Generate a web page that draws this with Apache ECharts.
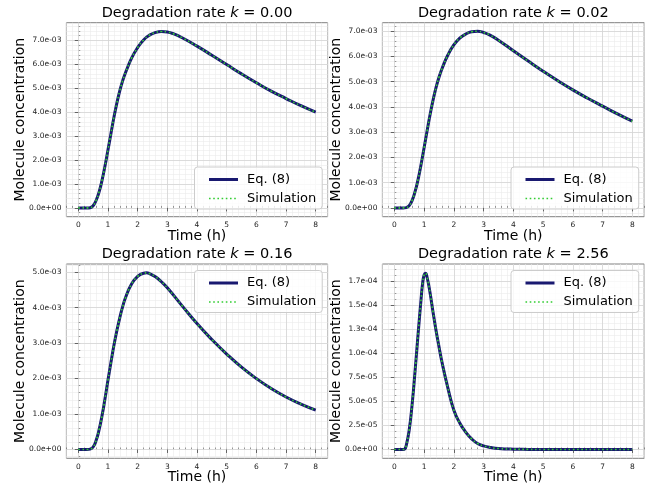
<!DOCTYPE html>
<html><head><meta charset="utf-8">
<script src="https://cdn.jsdelivr.net/npm/echarts@6/dist/echarts.min.js"></script>
<style>html,body{margin:0;padding:0;background:#fff}#c{width:649px;height:485px}</style>
</head><body><div id="c"></div>
<script>
// ---------- data ----------
const panelTitles = ['0.00', '0.02', '0.16', '2.56'];
const seriesNames = ['Eq. (8)', 'Simulation'];

// panel 1, k = 0.00 (concentration in units of 1e-3)
const timeK000 = [0,0.1,0.2,0.3,0.4,0.5,0.6,0.7,0.8,0.9,1.0,1.1,1.2,1.3,1.4,1.5,1.6,1.8,2.0,2.2,2.4,2.6,2.8,3.0,3.2,3.5,4.0,4.5,5.0,5.5,6.0,6.5,7.0,7.5,8.0];
const concK000 = [0,0,0,0,0.01,0.09,0.31,0.66,1.15,1.75,2.42,3.1,3.78,4.38,4.9,5.33,5.68,6.27,6.7,7.02,7.22,7.33,7.37,7.35,7.28,7.11,6.76,6.38,5.99,5.6,5.23,4.88,4.57,4.27,4.0];

// panel 2, k = 0.02 (units of 1e-3)
const timeK002 = [0,0.1,0.2,0.3,0.4,0.5,0.6,0.7,0.8,0.9,1.0,1.1,1.2,1.3,1.4,1.5,1.6,1.8,2.0,2.2,2.4,2.6,2.8,3.0,3.2,3.5,4.0,4.5,5.0,5.5,6.0,6.5,7.0,7.5,8.0];
const concK002 = [0,0,0,0,0.01,0.09,0.30,0.65,1.13,1.72,2.37,3.03,3.68,4.25,4.75,5.16,5.5,6.05,6.45,6.72,6.88,6.97,6.99,6.94,6.85,6.64,6.22,5.81,5.41,5.03,4.67,4.34,4.03,3.72,3.43];

// panel 3, k = 0.16 (units of 1e-3)
const timeK016 = [0,0.1,0.2,0.3,0.4,0.5,0.6,0.7,0.8,0.9,1.0,1.1,1.2,1.3,1.4,1.5,1.6,1.8,2.0,2.2,2.3,2.4,2.6,2.8,3.0,3.5,4.0,4.5,5.0,5.5,6.0,6.5,7.0,7.5,8.0];
const concK016 = [0,0,0,0,0.01,0.07,0.25,0.55,0.95,1.43,1.95,2.45,2.93,3.35,3.72,4.04,4.3,4.67,4.88,4.97,4.98,4.96,4.87,4.73,4.56,4.05,3.55,3.1,2.69,2.32,2.0,1.72,1.48,1.28,1.11];

// panel 4, k = 2.56 (units of 1e-5)
const timeK256 = [0,0.1,0.2,0.3,0.35,0.4,0.5,0.6,0.7,0.8,0.9,0.95,1.0,1.05,1.1,1.2,1.3,1.4,1.5,1.6,1.8,2.0,2.2,2.4,2.6,2.8,3.0,3.25,3.5,4.0,4.5,5.0,6.0,7.0,8.0];
const concK256 = [0,0,0,0,0.05,0.4,2.0,4.7,8.2,12.0,15.6,17.2,18.1,18.3,17.9,16.3,14.3,12.4,10.7,9.1,6.4,4.1,2.75,1.8,1.1,0.62,0.37,0.2,0.1,0.03,0.01,0,0,0,0];

// tick values and labels
const xTicks = [0,1,2,3,4,5,6,7,8];
const xTickLabels = ['0','1','2','3','4','5','6','7','8'];
const yTicks1 = [0,1,2,3,4,5,6,7];
const yTickLabels1 = ['0.0e+00','1.0e-03','2.0e-03','3.0e-03','4.0e-03','5.0e-03','6.0e-03','7.0e-03'];
const yTicks2 = [0,1,2,3,4,5,6,7];
const yTickLabels2 = ['0.0e+00','1.0e-03','2.0e-03','3.0e-03','4.0e-03','5.0e-03','6.0e-03','7.0e-03'];
const yTicks3 = [0,1,2,3,4,5];
const yTickLabels3 = ['0.0e+00','1.0e-03','2.0e-03','3.0e-03','4.0e-03','5.0e-03'];
const yTicks4 = [0,2.5,5,7.5,10,12.5,15,17.5];
const yTickLabels4 = ['0.0e+00','2.5e-05','5.0e-05','7.5e-05','1.0e-04','1.3e-04','1.5e-04','1.7e-04'];

// ---------- layout ----------
const FONT = 'DejaVu Sans';
const panels = [
  {t: timeK000, c: concK000, yt: yTicks1, yl: yTickLabels1, ymin: -0.368, ymax: 7.74, minorY: 0.2,
   grid: {left: 66.4, top: 22.7, width: 261.2, height: 194}, legend: {left: 194.5, top: 167}},
  {t: timeK002, c: concK002, yt: yTicks2, yl: yTickLabels2, ymin: -0.349, ymax: 7.33, minorY: 0.2,
   grid: {left: 382.4, top: 22.7, width: 261.8, height: 194}, legend: {left: 511, top: 167}},
  {t: timeK016, c: concK016, yt: yTicks3, yl: yTickLabels3, ymin: -0.249, ymax: 5.23, minorY: 0.2,
   grid: {left: 66.4, top: 264, width: 261.2, height: 194.3}, legend: {left: 194.5, top: 270.5}},
  {t: timeK256, c: concK256, yt: yTicks4, yl: yTickLabels4, ymin: -0.915, ymax: 19.25, minorY: 0.625,
   grid: {left: 382.4, top: 264, width: 261.8, height: 194.3}, legend: {left: 511, top: 270.5}}
];

function minorValues(min, max, step) {
  const out = [];
  for (let i = Math.ceil(min / step - 1e-9); i * step <= max + 1e-9; i++) out.push(+(i * step).toFixed(6));
  return out;
}
function labelFor(ticks, labels) {
  return function (v) {
    for (let i = 0; i < ticks.length; i++) if (Math.abs(ticks[i] - v) < 1e-6) return labels[i];
    return '';
  };
}

const grids = [], xAxes = [], yAxes = [], series = [], legends = [], graphics = [];
const XMIN = -0.4, XMAX = 8.4;
panels.forEach((p, i) => {
  grids.push(Object.assign({show: true, borderColor: '#808080', borderWidth: 1, containLabel: false}, p.grid));
  // major x
  xAxes.push({type: 'value', gridIndex: i, min: XMIN, max: XMAX, z: 3,
    axisLine: {show: false},
    axisTick: {show: true, length: 3.5, customValues: xTicks, lineStyle: {color: '#444', width: 0.8}},
    axisLabel: {show: true, customValues: xTicks, formatter: labelFor(xTicks, xTickLabels), fontSize: 7.5, fontFamily: FONT, color: '#222', margin: 4.5},
    splitLine: {show: true, lineStyle: {color: '#d4d4d4', width: 0.8}}});
  // minor x
  xAxes.push({type: 'value', gridIndex: i, min: XMIN, max: XMAX, z: 2,
    axisLine: {show: false},
    axisTick: {show: true, length: 2, customValues: minorValues(XMIN, XMAX, 0.2), lineStyle: {color: '#555', width: 0.6}},
    axisLabel: {show: false},
    splitLine: {show: true, lineStyle: {color: '#ebebeb', width: 0.6}}});
  // major y
  yAxes.push({type: 'value', gridIndex: i, min: p.ymin, max: p.ymax, z: 3,
    axisLine: {show: false},
    axisTick: {show: true, length: 3.5, customValues: p.yt, lineStyle: {color: '#444', width: 0.8}},
    axisLabel: {show: true, customValues: p.yt, formatter: labelFor(p.yt, p.yl), fontSize: 7.5, fontFamily: FONT, color: '#222', margin: 5},
    splitLine: {show: true, lineStyle: {color: '#d4d4d4', width: 0.8}}});
  // minor y
  yAxes.push({type: 'value', gridIndex: i, min: p.ymin, max: p.ymax, z: 2,
    axisLine: {show: false},
    axisTick: {show: true, length: 2, customValues: minorValues(p.ymin, p.ymax, p.minorY), lineStyle: {color: '#555', width: 0.6}},
    axisLabel: {show: false},
    splitLine: {show: true, lineStyle: {color: '#ebebeb', width: 0.6}}});

  const pts = p.t.map((t, j) => [t, p.c[j]]);
  series.push({name: seriesNames[0], type: 'line', xAxisIndex: 2 * i, yAxisIndex: 2 * i, data: pts,
    symbol: 'none', smooth: 0.5, z: 5,
    lineStyle: {color: '#191970', width: 3}, itemStyle: {color: '#191970'}});
  series.push({name: seriesNames[1], type: 'line', xAxisIndex: 2 * i, yAxisIndex: 2 * i, data: pts,
    symbol: 'none', smooth: 0.5, z: 6,
    lineStyle: {color: '#32cd32', width: 1.6, type: [1.6, 2.6]}, itemStyle: {color: '#32cd32'}});

  legends.push({show: true, orient: 'vertical', left: p.legend.left, top: p.legend.top,
    data: [{name: seriesNames[0], lineStyle: {width: 3, color: '#191970'}},
           {name: seriesNames[1], lineStyle: {width: 1.6, color: '#32cd32', type: [1.6, 2.6]}}],
    itemWidth: 29, itemHeight: 13, itemGap: 6, padding: [6, 6, 4, 13],
    backgroundColor: 'rgba(255,255,255,0.8)', borderColor: '#cccccc', borderWidth: 1, borderRadius: 3,
    selectedMode: false,
    itemStyle: {opacity: 0, borderWidth: 0},
    textStyle: {fontFamily: FONT, fontSize: 13, color: '#000', padding: [0, 0, 0, 4]}});

  const g = p.grid;
  const cx = g.left + g.width / 2, cy = g.top + g.height / 2;
  graphics.push({type: 'text', x: cx, y: g.top - 9.5, z: 10, style: {
    text: '{n|Degradation rate }{i|k}{n| = ' + panelTitles[i] + '}',
    rich: {n: {fontFamily: FONT, fontSize: 14.5, fill: '#000'}, i: {fontFamily: FONT, fontSize: 14.5, fontStyle: 'italic', fill: '#000'}},
    font: '14.5px "DejaVu Sans"', textAlign: 'center', textVerticalAlign: 'middle', align: 'center', verticalAlign: 'middle', fill: '#000'}});
  graphics.push({type: 'text', x: cx, y: g.top + g.height + 19.5, z: 10, style: {
    text: 'Time (h)', font: '14px "DejaVu Sans"', textAlign: 'center', textVerticalAlign: 'middle', align: 'center', verticalAlign: 'middle', fill: '#000'}});
  graphics.push({type: 'text', x: g.left - 46.4, y: cy, rotation: Math.PI / 2, z: 10, style: {
    text: 'Molecule concentration', font: '14px "DejaVu Sans"', textAlign: 'center', textVerticalAlign: 'middle', align: 'center', verticalAlign: 'middle', fill: '#000'}});
});

const chart = echarts.init(document.getElementById('c'), null, {renderer: 'canvas'});
chart.setOption({
  animation: false,
  backgroundColor: '#ffffff',
  grid: grids, xAxis: xAxes, yAxis: yAxes, series: series, legend: legends, graphic: graphics
});
</script></body></html>
